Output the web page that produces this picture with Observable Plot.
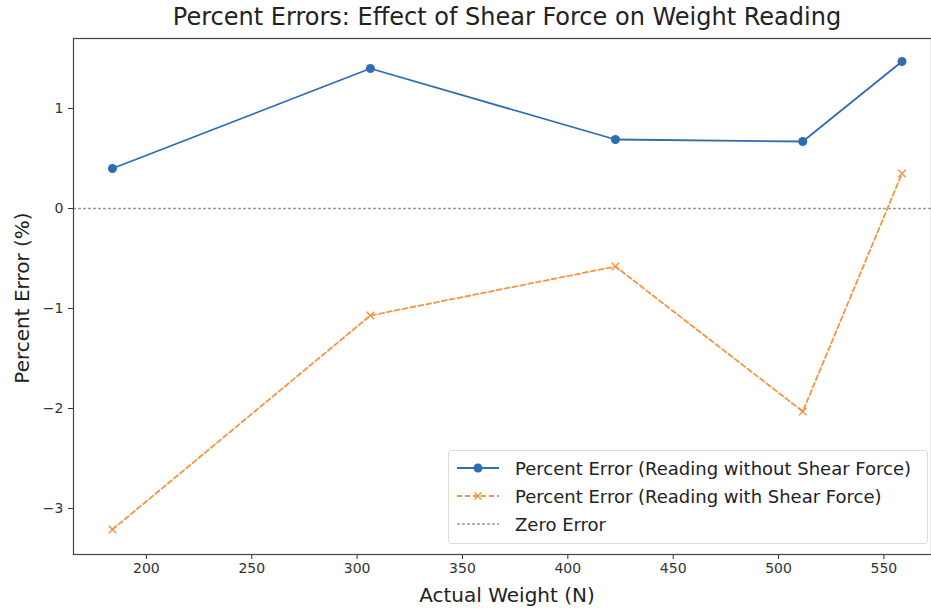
<!DOCTYPE html>
<html>
<head>
<meta charset="utf-8">
<script src="https://cdn.jsdelivr.net/npm/d3@7"></script>
<script src="https://cdn.jsdelivr.net/npm/@observablehq/plot@0.6"></script>
<style>
  html, body { margin: 0; padding: 0; background: #fff; }
  #wrap { position: relative; width: 931px; height: 612px; font-family: "DejaVu Sans", sans-serif; color: #222; overflow: hidden; }
  #title { position: absolute; left: 73px; width: 868px; top: 2px; text-align: center; font-size: 24px; line-height: 30px; }
  #xlabel { position: absolute; left: 73px; width: 868px; top: 582px; text-align: center; font-size: 20px; line-height: 26px; }
  #ylabel { position: absolute; left: 22px; top: 298px; transform: translate(-50%, -50%) rotate(-90deg); white-space: nowrap; font-size: 20px; }
  #chart { position: absolute; left: 0; top: 30px; }
  #legend { position: absolute; left: 448px; top: 450px; width: 480px; height: 94px; border: 1px solid #ddd; border-radius: 3px; background: rgba(255,255,255,0.85); box-sizing: border-box; }
  .row { position: absolute; left: 0; height: 26px; display: flex; align-items: center; font-size: 18px; white-space: nowrap; }
  .row svg { margin-left: 8px; margin-right: 16px; }
</style>
</head>
<body>
<div id="wrap">
  <div id="title">Percent Errors: Effect of Shear Force on Weight Reading</div>
  <div id="chart"></div>
  <div id="xlabel">Actual Weight (N)</div>
  <div id="ylabel">Percent Error (%)</div>
  <div id="legend"></div>
</div>
<script>
const weights = [183.9, 306.3, 422.6, 511.5, 558.6];
const errWithoutShear = [0.40, 1.40, 0.69, 0.67, 1.47];
const errWithShear = [-3.21, -1.07, -0.58, -2.03, 0.35];
const xTicks = [200, 250, 300, 350, 400, 450, 500, 550];
const yTicks = [-3, -2, -1, 0, 1];
const seriesNames = [
  "Percent Error (Reading without Shear Force)",
  "Percent Error (Reading with Shear Force)",
  "Zero Error"
];
const blue = "#2f6db3";
const orange = "#f4953f";
const gray = "#9a9a9a";

const noShear = weights.map((w, i) => ({w, e: errWithoutShear[i]}));
const withShear = weights.map((w, i) => ({w, e: errWithShear[i]}));

const chart = Plot.plot({
  width: 931,
  height: 582,
  marginTop: 8,
  marginBottom: 58,
  marginLeft: 73,
  marginRight: 0,
  style: {fontFamily: "DejaVu Sans", fontSize: "14px", color: "#333", background: "transparent"},
  x: {domain: [165.4, 572.6]},
  y: {domain: [-3.46, 1.70]},
  marks: [
    Plot.ruleY([0], {stroke: gray, strokeWidth: 1.3, strokeDasharray: "3,2"}),
    Plot.line(noShear, {x: "w", y: "e", stroke: blue, strokeWidth: 1.8}),
    Plot.dot(noShear, {x: "w", y: "e", fill: blue, r: 4.5}),
    Plot.line(withShear, {x: "w", y: "e", stroke: orange, strokeWidth: 1.8, strokeDasharray: "5,3"}),
    Plot.dot(withShear, {x: "w", y: "e", symbol: "times", stroke: orange, strokeWidth: 1.5, r: 3.5}),
    Plot.axisX({ticks: xTicks, tickSize: 5, tickPadding: 4, label: null, stroke: "#333", tickFormat: d3.format("d")}),
    Plot.axisY({ticks: yTicks, tickSize: 5, tickPadding: 5, label: null, stroke: "#333", tickFormat: d3.format("d")}),
    Plot.frame({stroke: "#444", strokeWidth: 1.2})
  ]
});
document.getElementById("chart").appendChild(chart);

// legend
const legend = document.getElementById("legend");
const rowsTop = [4, 32, 60];
seriesNames.forEach((name, i) => {
  const row = document.createElement("div");
  row.className = "row";
  row.style.top = rowsTop[i] + "px";
  let sw = "";
  if (i === 0) {
    sw = `<svg width="42" height="14"><line x1="0" y1="7" x2="42" y2="7" stroke="${blue}" stroke-width="1.8"/><circle cx="21" cy="7" r="4.5" fill="${blue}"/></svg>`;
  } else if (i === 1) {
    sw = `<svg width="42" height="14"><line x1="0" y1="7" x2="42" y2="7" stroke="${orange}" stroke-width="1.8" stroke-dasharray="5,3"/><path d="M17.5,3.5L24.5,10.5M24.5,3.5L17.5,10.5" stroke="${orange}" stroke-width="1.5"/></svg>`;
  } else {
    sw = `<svg width="42" height="14"><line x1="0" y1="7" x2="42" y2="7" stroke="${gray}" stroke-width="1.3" stroke-dasharray="3,2"/></svg>`;
  }
  row.innerHTML = sw + `<span>${name}</span>`;
  legend.appendChild(row);
});
</script>
</body>
</html>
